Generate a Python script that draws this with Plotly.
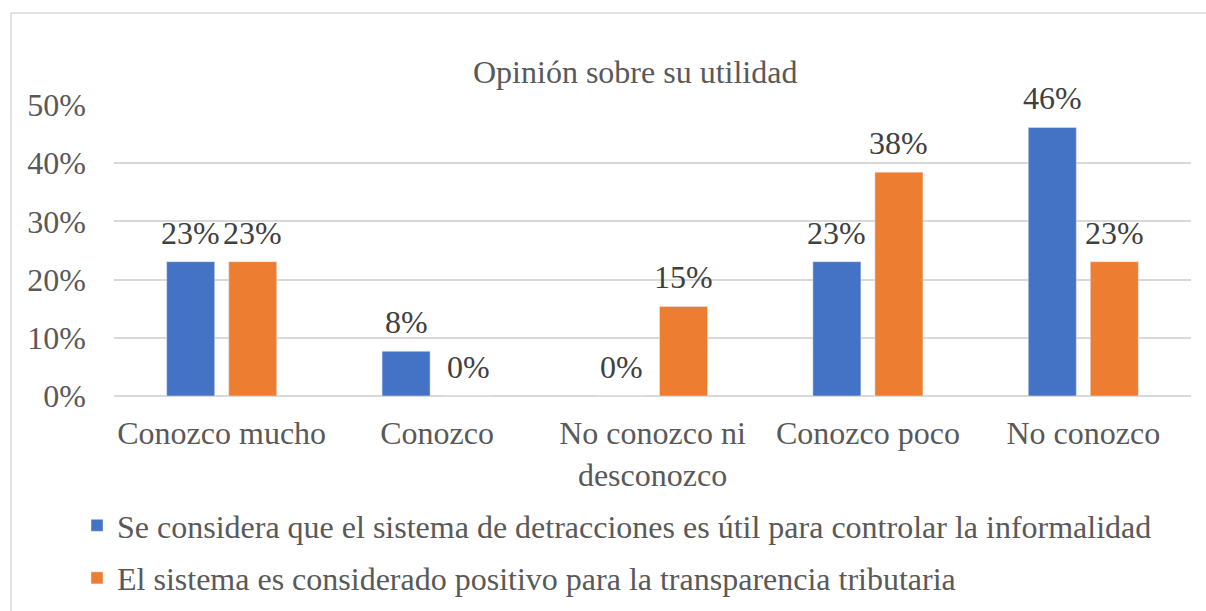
import plotly.graph_objects as go

categories = ["Conozco mucho", "Conozco", "No conozco ni<br>desconozco", "Conozco poco", "No conozco"]
series1_name = "Se considera que el sistema de detracciones es útil para controlar la informalidad"
series2_name = "El sistema es considerado positivo para la transparencia tributaria"
series1 = [0.2308, 0.0769, 0.0, 0.2308, 0.4615]
series2 = [0.2308, 0.0, 0.1538, 0.3846, 0.2308]
title_text = "Opinión sobre su utilidad"

FONT = "Liberation Serif"
BLUE = "#4472C4"
ORANGE = "#ED7D31"
GRID = "#D9D9D9"
AX = "#595959"
LBL = "#404040"
FS = 32

W, H = 1206, 611
L, R, T, B = 114, 15, 105, 215
pw = W - L - R
ph = H - T - B


def px_x(p):
    return (p - L) / pw


def px_y(p):
    return (H - B - p) / ph


bargap = 0.424
fig = go.Figure()
fig.add_trace(go.Bar(x=list(range(len(categories))), y=series1, name=series1_name,
                     marker_color=BLUE, legendgroup="a"))
fig.add_trace(go.Bar(x=list(range(len(categories))), y=series2, name=series2_name,
                     marker_color=ORANGE, legendgroup="b"))

off = (1 - bargap) / 4
annotations = []
for vals, sgn in ((series1, -1), (series2, 1)):
    for i, v in enumerate(vals):
        annotations.append(dict(x=i + sgn * off, y=v, xref="x", yref="y",
                                text=f"{round(v*100):d}%", showarrow=False,
                                yanchor="bottom", yshift=9,
                                font=dict(family=FONT, size=FS, color=LBL)))

annotations.append(dict(x=px_x(635), y=px_y(72), xref="paper", yref="paper",
                        text=title_text, showarrow=False, xanchor="center", yanchor="middle",
                        font=dict(family=FONT, size=FS, color=AX)))

shapes = [
    dict(type="line", xref="paper", yref="paper", x0=px_x(11), x1=px_x(11), y0=px_y(13), y1=px_y(H + 5),
         line=dict(color=GRID, width=1.5)),
    dict(type="line", xref="paper", yref="paper", x0=px_x(11), x1=px_x(W + 5), y0=px_y(13), y1=px_y(13),
         line=dict(color=GRID, width=1.5)),
]

fig.update_layout(
    width=W, height=H,
    margin=dict(l=L, r=R, t=T, b=B, autoexpand=False),
    paper_bgcolor="white", plot_bgcolor="white",
    barmode="group", bargap=bargap, bargroupgap=0.226,
    font=dict(family=FONT, size=FS, color=AX),
    showlegend=True,
    legend=dict(x=px_x(77), y=px_y(498), xanchor="left", yanchor="top",
                orientation="v", traceorder="grouped", tracegroupgap=8,
                font=dict(family=FONT, size=FS, color=AX), bgcolor="rgba(0,0,0,0)"),
    annotations=annotations,
    shapes=shapes,
    xaxis=dict(tickmode="array", tickvals=list(range(len(categories))), ticktext=categories,
               range=[-0.5, len(categories) - 0.5], showgrid=False, zeroline=False,
               showline=False, ticks="", ticklabelstandoff=15,
               tickfont=dict(family=FONT, size=FS, color=AX)),
    yaxis=dict(range=[0, 0.5], dtick=0.1, tickformat=".0%", showgrid=True, gridcolor=GRID,
               gridwidth=1.5, zeroline=True, zerolinecolor=GRID, zerolinewidth=1.5,
               showline=False, ticks="", ticklabelstandoff=27,
               tickfont=dict(family=FONT, size=FS, color=AX)),
)

fig.write_html("out.html", config={"displayModeBar": False},
               post_script="document.body.style.margin='0';document.body.style.overflow='hidden';")
